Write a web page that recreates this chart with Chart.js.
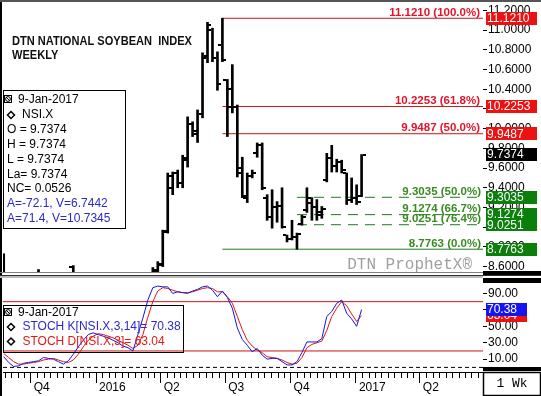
<!DOCTYPE html>
<html lang="en">
<head>
<meta charset="UTF-8">
<title>DTN National Soybean Index - Weekly</title>
<script src="https://cdn.jsdelivr.net/npm/chart.js"></script>
<style>
  html, body { margin: 0; padding: 0; background: #fff; }
  #wrap { position: relative; width: 541px; height: 396px; overflow: hidden; background: #fff; }
  #priceChart { position: absolute; left: 0; top: 0; }
  #stochChart { position: absolute; left: 0; top: 275px; }
</style>
</head>
<body>
<div id="wrap">
  <canvas id="priceChart" width="541" height="275"></canvas>
  <canvas id="stochChart" width="541" height="121"></canvas>
</div>
<script>
// weekly bars (Monday dates)
const weeks = [
  '2015-08-24','2015-08-31','2015-09-07','2015-09-14','2015-09-21','2015-09-28','2015-10-05','2015-10-12','2015-10-19','2015-10-26',
  '2015-11-02','2015-11-09','2015-11-16','2015-11-23','2015-11-30','2015-12-07','2015-12-14','2015-12-21','2015-12-28','2016-01-04',
  '2016-01-11','2016-01-18','2016-01-25','2016-02-01','2016-02-08','2016-02-15','2016-02-22','2016-02-29','2016-03-07','2016-03-14',
  '2016-03-21','2016-03-28','2016-04-04','2016-04-11','2016-04-18','2016-04-25','2016-05-02','2016-05-09','2016-05-16','2016-05-23',
  '2016-05-30','2016-06-06','2016-06-13','2016-06-20','2016-06-27','2016-07-04','2016-07-11','2016-07-18','2016-07-25','2016-08-01',
  '2016-08-08','2016-08-15','2016-08-22','2016-08-29','2016-09-05','2016-09-12','2016-09-19','2016-09-26','2016-10-03','2016-10-10',
  '2016-10-17','2016-10-24','2016-10-31','2016-11-07','2016-11-14','2016-11-21','2016-11-28','2016-12-05','2016-12-12','2016-12-19',
  '2016-12-26','2017-01-02','2017-01-09'
];

// price bars (null = below the visible range)
const open = [
  8.70, null, null, null, null, null, null, 8.40, null, null,
  null, null, null, null, 8.60, null, null, null, null, null,
  null, null, null, null, null, null, null, null, null, null,
  8.45, 8.56, 8.63, 8.96, 9.40, 9.55, 9.45, 9.68, 10.05, 9.95,
  10.15, 10.72, 11.00, 10.72, 10.85, 10.49, 10.40, 10.22, 9.60, 9.30,
  9.52, 9.75, 9.83, 9.30, 9.10, 9.20, 9.22, 8.92, 8.88, 8.90,
  9.03, 9.17, 9.25, 9.20, 9.12, 9.48, 9.70, 9.62, 9.66, 9.55,
  9.28, 9.30, 9.32
];
const high = [
  8.73, null, null, null, null, null, null, 8.57, null, null,
  null, null, null, null, 8.61, null, null, null, null, null,
  null, null, null, null, null, null, null, null, null, null,
  8.59, 8.65, 8.97, 9.55, 9.56, 9.58, 9.73, 10.12, 10.07, 10.19,
  10.77, 11.08, 11.02, 10.78, 11.121, 10.50, 10.65, 10.24, 9.71, 9.55,
  9.58, 9.855, 9.855, 9.33, 9.38, 9.26, 9.40, 8.92, 9.07, 8.94,
  9.12, 9.40, 9.30, 9.28, 9.21, 9.75, 9.8307, 9.69, 9.68, 9.55,
  9.50, 9.43, 9.7374
];
const low = [
  8.40, null, null, null, null, null, null, 8.35, null, null,
  null, null, null, null, 8.38, null, null, null, null, null,
  null, null, null, null, null, null, null, null, null, null,
  8.42, 8.50, 8.60, 8.94, 9.33, 9.40, 9.40, 9.61, 9.92, 9.86,
  10.11, 10.67, 10.68, 10.39, 10.68, 9.92, 10.16, 9.51, 9.30, 9.25,
  9.50, 9.71, 9.38, 9.07, 8.99, 9.05, 8.99, 8.85, 8.87, 8.7763,
  9.02, 9.15, 9.07, 9.07, 9.09, 9.46, 9.56, 9.56, 9.55, 9.23,
  9.25, 9.23, 9.31
];
const close = [
  8.48, null, null, null, null, null, null, 8.52, null, null,
  null, null, null, null, 8.45, null, null, null, null, null,
  null, null, null, null, null, null, null, null, null, null,
  8.57, 8.62, 8.95, 9.52, 9.55, 9.45, 9.70, 10.05, 9.98, 10.15,
  10.74, 11.05, 10.72, 10.45, 10.70, 10.22, 10.22, 9.55, 9.32, 9.52,
  9.55, 9.83, 9.40, 9.10, 9.20, 9.22, 9.00, 8.88, 8.90, 8.93,
  9.10, 9.30, 9.20, 9.15, 9.18, 9.70, 9.62, 9.66, 9.58, 9.28,
  9.30, 9.26, 9.7374
];

// stochastics
const stochK = [
  13, 6, 1, 2, 5, 6, 7, 8, 12, 11,
  10, 7, 4, 8, 16, 25, 33, 40, 42, 40,
  38, 36, 33, 30, 26, 24, 20, 40, 60, 82,
  97, 99, 98, 98, 90, 92, 91, 90, 93, 95,
  98, 99, 94, 86, 93, 85, 72, 48, 34, 27,
  19, 23, 15, 10, 11, 11, 7, 3, 3, 7,
  18, 31, 31, 31, 35, 62, 68, 78, 82, 66,
  59, 50, 70.38
];
const stochD = [
  17, 12, 7, 4, 4, 5, 6, 7, 9, 10,
  11, 9, 7, 6, 9, 16, 25, 33, 38, 41,
  40, 38, 36, 33, 30, 27, 23, 27, 40, 61,
  80, 93, 97, 96, 94, 92, 91, 91, 92, 94,
  96, 97, 96, 92, 92, 86, 78, 62, 46, 33,
  26, 21, 18, 13, 12, 11, 9, 6, 4, 5,
  12, 24, 28, 30, 32, 45, 62, 72, 80, 75,
  65, 56, 63.04
];

// fibonacci levels
const fibRedLevels = [11.1210, 10.2253, 9.9487];
const fibRedPct = ['100.0%', '61.8%', '50.0%'];
const fibGreenLevels = [9.3035, 9.1274, 9.0251];
const fibGreenPct = ['50.0%', '66.7%', '76.4%'];
const fibBaseLevel = 8.7763;
const fibBasePct = '0.0%';

// axes
const priceTicks = [8.6, 8.8, 9.0, 9.2, 9.4, 9.6, 9.8, 10.0, 10.2, 10.4, 10.6, 10.8, 11.0, 11.2];
const stochTicks = [10, 30, 50, 70, 90];
const quarterDates = ['2015-10-01', '2016-01-01', '2016-04-01', '2016-07-01', '2016-10-01', '2017-01-01', '2017-04-01'];
const quarterLabels = ['Q4', '2016', 'Q2', 'Q3', 'Q4', '2017', 'Q2'];

const infoRows = [
  ['O = 9.7374', '#000'], ['H = 9.7374', '#000'], ['L = 9.7374', '#000'],
  ['La= 9.7374', '#000'], ['NC= 0.0526', '#000'],
  ['A=-72.1, V=6.7442', '#2a2ac8'], ['A=71.4, V=10.7345', '#2a2ac8']
];

const dayNum = s => (Date.parse(s) - Date.parse('2016-01-01')) / 864e5;
const X_MIN = -131, X_MAX = 545;

const RED_LINE = '#cc1414', RED_TEXT = '#e0142a', RED_BOX = '#ee1111';
const GREEN_LINE = '#1f7a1f', GREEN_TEXT = '#3a8a22', GREEN_BOX = '#0a800a';

Chart.defaults.font.family = 'Arial, "Liberation Sans", sans-serif';
Chart.defaults.font.size = 12;
Chart.defaults.color = '#000';

const barData = weeks.map((w, i) => high[i] == null ? null : { x: dayNum(w), y: [low[i], high[i]] }).filter(Boolean);

let iHigh = 0;
high.forEach((v, i) => { if (v != null && v > high[iHigh]) iHigh = i; });
let iLow = iHigh;
low.forEach((v, i) => { if (i > iHigh && v != null && v < low[iLow]) iLow = i; });

function levelLine(fromX, level, color, dash) {
  return {
    type: 'line',
    data: [{ x: fromX, y: level }, { x: X_MAX, y: level }],
    borderColor: color, borderWidth: 1, borderDash: dash || [],
    pointRadius: 0, fill: false
  };
}

function drawIcon(ctx, x, y) {
  ctx.strokeStyle = '#000';
  ctx.lineWidth = 1;
  ctx.strokeRect(x + 0.5, y + 0.5, 7, 7);
  ctx.beginPath();
  ctx.arc(x + 4, y + 4, 2.4, 0, Math.PI * 2);
  ctx.moveTo(x + 2, y + 2);
  ctx.lineTo(x + 6, y + 6);
  ctx.stroke();
}

function drawDiamond(ctx, cx, cy) {
  ctx.strokeStyle = '#000';
  ctx.lineWidth = 1.5;
  ctx.beginPath();
  ctx.moveTo(cx, cy - 3.5);
  ctx.lineTo(cx + 3.5, cy);
  ctx.lineTo(cx, cy + 3.5);
  ctx.lineTo(cx - 3.5, cy);
  ctx.closePath();
  ctx.stroke();
}

function axisBox(ctx, y, text, color, w) {
  ctx.fillStyle = color;
  ctx.fillRect(486, Math.round(y - 6.5), w, 13);
  ctx.fillStyle = '#fff';
  ctx.font = '12px Arial';
  ctx.textAlign = 'left';
  ctx.textBaseline = 'middle';
  ctx.fillText(text, 487, y + 0.5);
}

const priceDecor = {
  id: 'priceDecor',
  afterDatasetsDraw(chart) {
    const { ctx, chartArea: a, scales: { x: xs, y: ys } } = chart;
    ctx.save();
    ctx.beginPath();
    ctx.rect(a.left, a.top, a.right - a.left, a.bottom - a.top);
    ctx.clip();
    ctx.fillStyle = '#000';
    weeks.forEach((w, i) => {
      if (high[i] == null) return;
      const x = Math.round(xs.getPixelForValue(dayNum(w)));
      const yo = Math.round(ys.getPixelForValue(open[i]));
      const yc = Math.round(ys.getPixelForValue(close[i]));
      ctx.fillRect(x - 4, yo - 1, 3, 2);
      ctx.fillRect(x + 1, yc - 1, 3, 2);
    });
    ctx.restore();
  },
  afterDraw(chart) {
    const { ctx, chartArea: a, scales: { y: ys } } = chart;
    ctx.save();

    // fib labels
    ctx.font = 'bold 11.5px Arial';
    ctx.textAlign = 'right';
    ctx.textBaseline = 'alphabetic';
    fibRedLevels.forEach((v, i) => {
      ctx.fillStyle = RED_TEXT;
      ctx.fillText(v.toFixed(4) + ' (' + fibRedPct[i] + ')', a.right - 3, ys.getPixelForValue(v) - 2.5);
    });
    fibGreenLevels.forEach((v, i) => {
      ctx.fillStyle = GREEN_TEXT;
      ctx.fillText(v.toFixed(4) + ' (' + fibGreenPct[i] + ')', a.right - 2, ys.getPixelForValue(v) - 2.5);
    });
    ctx.fillText(fibBaseLevel.toFixed(4) + ' (' + fibBasePct + ')', a.right - 2, ys.getPixelForValue(fibBaseLevel) - 2.5);

    // watermark
    ctx.font = '16px "Liberation Mono", "Courier New", monospace';
    ctx.fillStyle = '#a0a0a0';
    ctx.textBaseline = 'middle';
    ctx.fillText('DTN ProphetX\u00ae', a.right - 11, 265);

    // value boxes on the axis
    fibRedLevels.forEach(v => axisBox(ctx, ys.getPixelForValue(v), v.toFixed(4), RED_BOX, 51));
    const last = close[close.length - 1];
    axisBox(ctx, ys.getPixelForValue(last), last.toFixed(4), '#000', 51);
    fibGreenLevels.forEach(v => axisBox(ctx, ys.getPixelForValue(v), v.toFixed(4), GREEN_BOX, 51));
    axisBox(ctx, ys.getPixelForValue(fibBaseLevel), fibBaseLevel.toFixed(4), GREEN_BOX, 51);

    // title
    ctx.fillStyle = '#111';
    ctx.font = 'bold 13px Arial';
    ctx.textAlign = 'left';
    ctx.textBaseline = 'alphabetic';
    const t1 = 'DTN NATIONAL SOYBEAN  INDEX';
    const sx = 180 / ctx.measureText(t1).width;
    ctx.save();
    ctx.translate(12, 44.5);
    ctx.scale(sx, 1);
    ctx.fillText(t1, 0, 0);
    ctx.fillText('WEEKLY', 0, 14);
    ctx.restore();

    // info box
    ctx.strokeStyle = '#000';
    ctx.lineWidth = 1;
    ctx.strokeRect(3.5, 90.5, 122, 138);
    drawIcon(ctx, 4, 95);
    drawDiamond(ctx, 11, 115);
    ctx.font = '12px Arial';
    ctx.textBaseline = 'middle';
    ctx.fillStyle = '#000';
    ctx.fillText('9-Jan-2017', 18, 99.5);
    ctx.fillText('NSI.X', 22, 115);
    infoRows.forEach((r, i) => {
      ctx.fillStyle = r[1];
      ctx.fillText(r[0], 7, 130 + i * 14.75);
    });

    // frame & separators
    ctx.fillStyle = '#000';
    ctx.fillRect(483, 271, 58, 4);
    ctx.fillRect(0, 0, 2, 275);
    ctx.fillStyle = '#555';
    ctx.fillRect(0, 0, 541, 2);
    ctx.fillStyle = '#808080';
    ctx.fillRect(0, 272, 483, 1);
    ctx.restore();
  }
};

new Chart(document.getElementById('priceChart'), {
  type: 'bar',
  data: {
    datasets: [
      { type: 'bar', data: barData, backgroundColor: '#000', borderWidth: 0, barThickness: 2 },
      ...fibRedLevels.map(v => levelLine(dayNum(weeks[iHigh]), v, RED_LINE)),
      levelLine(dayNum(weeks[iHigh]), fibBaseLevel, GREEN_LINE),
      ...fibGreenLevels.map(v => levelLine(dayNum(weeks[iLow]), v, GREEN_LINE, [10, 7]))
    ]
  },
  options: {
    responsive: false,
    animation: false,
    events: [],
    layout: { padding: { left: 3, top: 2, right: 0, bottom: 3 } },
    plugins: { legend: { display: false }, tooltip: { enabled: false } },
    scales: {
      x: { type: 'linear', min: X_MIN, max: X_MAX, offset: false, display: false },
      y: {
        position: 'right', min: 8.545, max: 11.286,
        afterBuildTicks: s => { s.ticks = priceTicks.map(v => ({ value: v })); },
        afterFit: s => { s.width = 58; s.paddingTop = 0; s.paddingBottom = 0; },
        grid: { drawOnChartArea: false, color: '#000', tickLength: 4 },
        border: { display: false },
        ticks: { color: '#000', padding: 1, font: { size: 12 }, callback: v => v.toFixed(4) }
      }
    }
  },
  plugins: [priceDecor]
});

const stochDecor = {
  id: 'stochDecor',
  afterDraw(chart) {
    const { ctx, chartArea: a, scales: { x: xs, y: ys } } = chart;
    ctx.save();

    // minor ticks on the time axis
    ctx.strokeStyle = '#000';
    ctx.lineWidth = 1;
    const qd = ['2015-07-01', ...quarterDates, '2017-07-01'].map(dayNum);
    ctx.beginPath();
    for (let q = 0; q < qd.length - 1; q++) {
      for (let j = 1; j < 10; j++) {
        const px = Math.round(xs.getPixelForValue(qd[q] + (qd[q + 1] - qd[q]) * j / 10)) + 0.5;
        if (px < a.left || px > a.right) continue;
        ctx.moveTo(px, a.bottom);
        ctx.lineTo(px, a.bottom + 6);
      }
    }
    ctx.stroke();

    // value boxes
    ctx.fillStyle = RED_BOX;
    const yD = ys.getPixelForValue(stochD[stochD.length - 1]);
    const yK = ys.getPixelForValue(stochK[stochK.length - 1]);
    axisBox(ctx, yD, stochD[stochD.length - 1].toFixed(2), RED_BOX, 41);
    axisBox(ctx, yK, stochK[stochK.length - 1].toFixed(2), '#1515f0', 41);

    // legend box
    ctx.strokeStyle = '#000';
    ctx.lineWidth = 1;
    ctx.strokeRect(3.5, 30.5, 180, 47);
    drawIcon(ctx, 4, 33);
    drawDiamond(ctx, 11, 52);
    drawDiamond(ctx, 11, 66.5);
    ctx.font = '12px Arial';
    ctx.textAlign = 'left';
    ctx.textBaseline = 'middle';
    ctx.fillStyle = '#000';
    ctx.fillText('9-Jan-2017', 18, 38);
    ctx.fillStyle = '#2a2ad0';
    ctx.fillText('STOCH K[NSI.X,3,14]= ' + stochK[stochK.length - 1].toFixed(2), 22.5, 52);
    ctx.fillStyle = '#e01818';
    ctx.fillText('STOCH D[NSI.X,3]= ' + stochD[stochD.length - 1].toFixed(2), 22.5, 66.5);

    // axis decorations
    ctx.fillStyle = '#000';
    ctx.fillRect(483, 3, 58, 5);
    ctx.fillRect(483, 92, 58, 4);
    ctx.fillRect(0, 0, 2, 121);
    ctx.fillStyle = '#333';
    ctx.fillRect(0, 0, 541, 1);
    ctx.fillStyle = '#bbb';
    ctx.fillRect(0, 1, 483, 2);
    ctx.strokeStyle = '#000';
    ctx.strokeRect(483.5, 97.5, 57, 23);
    ctx.fillStyle = '#000';
    ctx.font = '13px "Liberation Mono", "Courier New", monospace';
    ctx.textAlign = 'center';
    ctx.fillText('1 Wk', 512, 108.5);
    ctx.restore();
  }
};

new Chart(document.getElementById('stochChart'), {
  type: 'line',
  data: {
    datasets: [
      { data: weeks.map((w, i) => ({ x: dayNum(w), y: stochK[i] })), borderColor: '#1414e6', borderWidth: 1, pointRadius: 0, tension: 0 },
      { data: weeks.map((w, i) => ({ x: dayNum(w), y: stochD[i] })), borderColor: '#e01414', borderWidth: 1, pointRadius: 0, tension: 0 },
      levelLine(X_MIN, 80, RED_LINE),
      levelLine(X_MIN, 20, RED_LINE),
      levelLine(X_MIN, 0, '#000', [4, 3])
    ]
  },
  options: {
    responsive: false,
    animation: false,
    events: [],
    layout: { padding: { left: 3, top: 3, right: 0, bottom: 0 } },
    plugins: { legend: { display: false }, tooltip: { enabled: false } },
    scales: {
      x: {
        type: 'linear', min: X_MIN, max: X_MAX, offset: false,
        afterBuildTicks: s => { s.ticks = quarterDates.map(d => ({ value: dayNum(d) })); },
        afterFit: s => { s.height = 24; s.paddingLeft = 0; s.paddingRight = 0; },
        grid: { drawOnChartArea: false, color: '#000', tickLength: 11 },
        border: { display: true, color: '#000' },
        ticks: {
          align: 'start', labelOffset: 3, padding: -3, autoSkip: false, maxRotation: 0, minRotation: 0,
          color: '#000', font: { size: 12 },
          callback: (v, i) => quarterLabels[i]
        }
      },
      y: {
        position: 'right', min: -5.6, max: 108.8,
        afterBuildTicks: s => { s.ticks = stochTicks.map(v => ({ value: v })); },
        afterFit: s => { s.width = 58; s.paddingTop = 0; s.paddingBottom = 0; },
        grid: { drawOnChartArea: false, color: '#000', tickLength: 4 },
        border: { display: false },
        ticks: { color: '#000', padding: 1, font: { size: 12 }, callback: v => v.toFixed(2) }
      }
    }
  },
  plugins: [stochDecor]
});
</script>
</body>
</html>
